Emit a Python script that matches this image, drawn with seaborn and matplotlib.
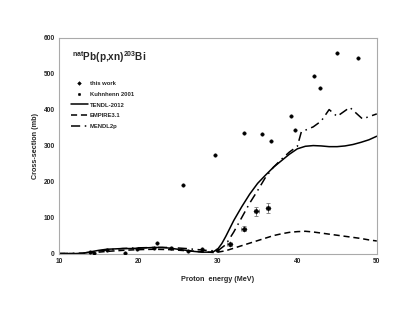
import matplotlib
matplotlib.use("Agg")
import matplotlib.pyplot as plt
from matplotlib.ticker import MultipleLocator
import seaborn as sns

sns.set_style("white")
plt.rcParams["font.family"] = ["Liberation Sans", "DejaVu Sans"]
plt.rcParams["font.weight"] = "bold"

# this work (with uncertainties)
tw_e = [31.5, 33.25, 34.85, 36.3]
tw_xs = [26, 69, 117, 126]
tw_dxs = [4, 7, 13, 14]
tw_de = [0.3, 0.3, 0.3, 0.3]

# Kuhnhenn 2001
ku_e = [13.9, 14.4, 16.0, 18.35, 19.8, 22.0, 22.3, 24.1, 25.65, 26.2, 28.05,
        29.7, 29.85, 33.3, 35.5, 36.65, 39.2, 39.75, 42.15, 42.8, 44.95, 47.6]
ku_xs = [5.5, 2, 10, 1, 14, 15, 30, 15, 190, 7, 12,
         274, 11, 334, 333, 312, 381, 344, 493, 459, 556, 543]

# TENDL-2012
tendl_e = [10, 12, 13, 14, 15, 16, 17, 18, 19, 20, 21, 22, 23, 24, 25, 26, 27, 28,
           29, 29.5, 30, 30.5, 31, 32, 33, 34, 35, 36, 37, 38, 39, 40, 41, 42, 43, 44,
           45, 46, 47, 48, 49, 50]
tendl_xs = [0, 0, 1, 5, 9, 12, 13, 14, 14, 15, 16, 17, 17, 15, 12, 9, 6, 4,
            4, 6, 13, 28, 48, 92, 130, 165, 195, 218, 240, 258, 276, 291, 298, 300, 299, 297,
            297, 299, 303, 309, 316, 326]

# EMPIRE3.1
empire_e = [10, 13, 14, 16, 18, 20, 22, 24, 26, 28, 29.5, 30, 31, 32, 33, 34, 35, 36,
            37, 38, 39, 40, 41, 42, 43, 44, 45, 46, 47, 48, 49, 50]
empire_xs = [0, 0, 2, 6, 9, 11, 12, 11, 8, 5, 3, 4, 8, 15, 22, 29, 36, 43,
             50, 55, 59, 61, 62, 60, 57, 54, 51, 48, 45, 42, 38, 35]

# MENDL2p
mendl_e = [10, 13, 14, 16, 18, 20, 22, 24, 26, 28, 29, 30, 31, 32, 33, 34, 35, 36,
           37, 38, 39, 40, 40.5, 42, 43, 44, 45, 46.6, 48.2, 50]
mendl_xs = [0, 1, 4, 10, 14, 16, 17, 17, 14, 10, 8, 8, 25, 60, 100, 140, 175, 212,
            240, 262, 282, 298, 338, 352, 368, 400, 381, 406, 374, 388]

fig = plt.figure(figsize=(4.15, 3.21), dpi=100)
ax = fig.add_axes([0.142, 0.21, 0.766, 0.673])

lw = 1.1
sns.lineplot(x=tendl_e, y=tendl_xs, ax=ax, color="black", lw=lw, label="TENDL-2012")
sns.lineplot(x=empire_e, y=empire_xs, ax=ax, color="black", lw=lw, label="EMPIRE3.1",
             linestyle=(0, (4, 2.5)))
sns.lineplot(x=mendl_e, y=mendl_xs, ax=ax, color="black", lw=lw, label="MENDL2p",
             linestyle=(0, (6, 3, 1, 3)))

ax.errorbar(tw_e, tw_xs, yerr=tw_dxs, xerr=tw_de, fmt="none", ecolor="#777777",
            elinewidth=0.6, capsize=1.2, capthick=0.6, zorder=3)
sns.scatterplot(x=tw_e, y=tw_xs, ax=ax, color="black", marker="D", s=7,
                linewidth=0.4, edgecolor="black", label="this work", zorder=4)
sns.scatterplot(x=ku_e, y=ku_xs, ax=ax, color="black", marker="o", s=6,
                linewidth=0.4, edgecolor="black", label="Kuhnhenn 2001", zorder=4)

ax.set_xlim(10, 50)
ax.set_ylim(0, 600)
ax.xaxis.set_major_locator(MultipleLocator(10))
ax.xaxis.set_minor_locator(MultipleLocator(5))
ax.yaxis.set_major_locator(MultipleLocator(100))
ax.yaxis.set_minor_locator(MultipleLocator(50))
ax.tick_params(which="both", direction="in", color="#999999", width=0.6,
               labelsize=4.8, pad=3)
ax.tick_params(which="major", length=3)
ax.tick_params(which="minor", length=2)
for lab in ax.get_xticklabels() + ax.get_yticklabels():
    lab.set_fontweight("bold")
for sp in ax.spines.values():
    sp.set_color("#aaaaaa")
    sp.set_linewidth(0.8)

ax.set_xlabel("Proton  energy (MeV)", fontsize=5.2, fontweight="bold", labelpad=8)
ax.set_ylabel("Cross-section (mb)", fontsize=5.2, fontweight="bold", labelpad=3)

ax.text(0.041, 0.91, r"$^{\mathregular{nat}}$Pb(p,xn)$^{\mathregular{203}}$Bi",
        transform=ax.transAxes, fontsize=7.2, fontweight="bold", va="center")

handles, labels = ax.get_legend_handles_labels()
order = ["this work", "Kuhnhenn 2001", "TENDL-2012", "EMPIRE3.1", "MENDL2p"]
hmap = dict(zip(labels, handles))
ax.legend([hmap[k] for k in order], order, loc="upper left",
          bbox_to_anchor=(0.02, 0.825), frameon=False,
          handlelength=3.0, handletextpad=0.3, labelspacing=1.0, markerscale=0.7,
          prop={"weight": "bold", "size": 4.2})

fig.savefig("out.png", dpi=100)
